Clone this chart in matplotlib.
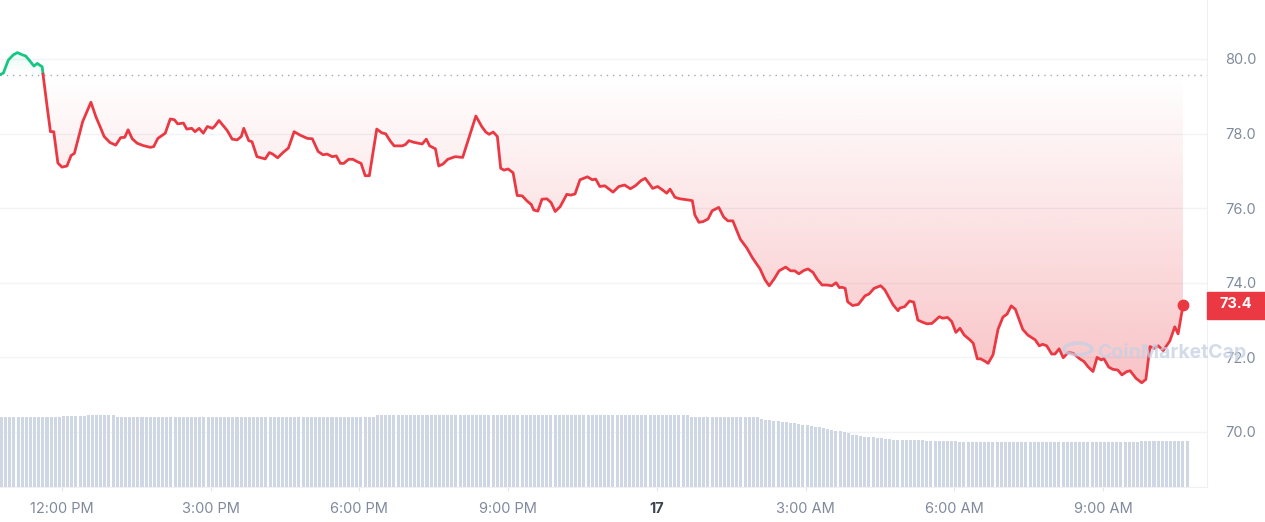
import numpy as np
import matplotlib.pyplot as plt
from matplotlib.path import Path
from matplotlib.patches import PathPatch, Rectangle, Circle
from matplotlib.transforms import blended_transform_factory

plt.rcParams['font.family'] = ['Inter', 'DejaVu Sans']

# price series: minutes after 10:45 AM (16th) and price in USD
t_min = [0, 4, 10, 16, 21, 27, 31, 36, 41, 45, 51, 52, 57, 61, 65, 70, 75, 81, 86, 90,
         100, 110, 116, 121, 126, 133, 140, 146, 151, 155, 160, 166, 173, 182, 186, 191, 200, 206, 211, 215,
         222, 226, 232, 236, 241, 246, 251, 257, 260, 265, 275, 281, 287, 292, 295, 301, 305, 311, 321, 326,
         330, 336, 343, 349, 356, 363, 372, 378, 385, 391, 396, 402, 407, 412, 416, 422, 427, 432, 437, 442,
         447, 456, 462, 467, 472, 477, 487, 491, 495, 500, 511, 516, 520, 527, 531, 536, 542, 551, 560, 576,
         583, 588, 592, 597, 602, 606, 610, 615, 621, 626, 632, 638, 643, 646, 651, 656, 662, 667, 672, 678,
         686, 691, 696, 702, 711, 717, 721, 726, 732, 742, 749, 756, 763, 769, 776, 781, 790, 796, 803, 807,
         811, 817, 823, 833, 838, 841, 846, 851, 857, 862, 870, 876, 881, 887, 896, 904, 911, 920, 926, 931,
         937, 943, 951, 957, 962, 967, 973, 978, 984, 989, 995, 1001, 1007, 1012, 1016, 1019, 1023, 1026, 1032, 1039,
         1047, 1052, 1058, 1066, 1071, 1081, 1087, 1089, 1095, 1101, 1106, 1111, 1117, 1122, 1128, 1137, 1141, 1147, 1152, 1157,
         1162, 1167, 1174, 1178, 1183, 1187, 1192, 1196, 1202, 1208, 1214, 1219, 1224, 1229, 1238, 1244, 1253, 1258, 1262, 1267,
         1273, 1277, 1282, 1287, 1293, 1299, 1307, 1312, 1317, 1323, 1328, 1333, 1336, 1342, 1347, 1353, 1358, 1364, 1368, 1375,
         1382, 1387, 1392, 1397, 1402, 1408, 1416, 1422, 1426, 1432]
price = [79.58, 79.62, 79.97, 80.11, 80.17, 80.11, 80.08, 79.95, 79.81, 79.88, 79.79, 79.59, 78.72, 78.05, 78.05, 77.21, 77.10, 77.13, 77.41, 77.47,
         78.32, 78.84, 78.45, 78.19, 77.92, 77.76, 77.69, 77.89, 77.90, 78.10, 77.86, 77.74, 77.68, 77.63, 77.65, 77.87, 78.01, 78.39, 78.37, 78.26,
         78.28, 78.12, 78.14, 78.05, 78.14, 78.01, 78.19, 78.14, 78.20, 78.35, 78.08, 77.85, 77.83, 77.92, 78.14, 77.81, 77.78, 77.38, 77.32, 77.49,
         77.45, 77.35, 77.50, 77.61, 78.05, 77.96, 77.87, 77.86, 77.52, 77.43, 77.45, 77.38, 77.40, 77.20, 77.20, 77.31, 77.31, 77.25, 77.20, 76.87,
         76.87, 78.12, 78.02, 77.99, 77.81, 77.67, 77.67, 77.71, 77.81, 77.77, 77.72, 77.85, 77.67, 77.59, 77.13, 77.18, 77.31, 77.38, 77.36, 78.47,
         78.19, 78.04, 77.98, 78.04, 77.92, 77.07, 77.02, 77.05, 76.95, 76.34, 76.33, 76.19, 76.10, 75.95, 75.92, 76.24, 76.25, 76.15, 75.91, 76.04,
         76.37, 76.35, 76.38, 76.76, 76.84, 76.76, 76.78, 76.58, 76.60, 76.43, 76.58, 76.62, 76.52, 76.60, 76.74, 76.80, 76.53, 76.58, 76.47, 76.40,
         76.51, 76.29, 76.25, 76.22, 76.20, 75.82, 75.62, 75.64, 75.71, 75.93, 76.02, 75.76, 75.66, 75.66, 75.17, 74.93, 74.66, 74.37, 74.08, 73.92,
         74.10, 74.32, 74.42, 74.32, 74.32, 74.24, 74.33, 74.37, 74.28, 74.10, 73.94, 73.94, 73.92, 74.00, 73.87, 73.88, 73.85, 73.49, 73.39, 73.42,
         73.65, 73.70, 73.85, 73.92, 73.81, 73.41, 73.25, 73.32, 73.36, 73.51, 73.48, 73.00, 72.94, 72.90, 72.91, 73.09, 73.05, 73.07, 72.96, 72.67,
         72.78, 72.60, 72.47, 72.38, 71.96, 71.96, 71.90, 71.84, 72.07, 72.75, 73.08, 73.16, 73.38, 73.29, 72.75, 72.60, 72.47, 72.31, 72.35, 72.31,
         72.09, 72.09, 72.23, 71.99, 72.13, 72.11, 71.96, 71.89, 71.75, 71.62, 72.00, 71.93, 71.97, 71.74, 71.68, 71.66, 71.53, 71.62, 71.64, 71.44,
         71.32, 71.41, 72.29, 72.24, 72.31, 72.18, 72.44, 72.82, 72.63, 73.40]

# 24h volume, one bar per 5 minutes (relative units)
vol = [69.7, 69.7, 69.7, 69.7, 69.7, 69.7, 69.7, 69.7, 69.7, 69.7, 69.7, 69.7, 70.3, 70.3, 70.3, 71.3, 71.3, 71.3, 71.3, 71.3, 71.3, 72.3, 72.3, 72.3,
       72.3, 71.7, 71.7, 71.7, 70.3, 70.3, 70.3, 70.3, 70.3, 70.3, 70.3, 70.3, 70.3, 70.3, 70.3, 70.3, 70.3, 69.7, 69.7, 69.7, 69.7, 69.7, 69.7, 69.7,
       69.7, 69.7, 69.7, 69.7, 69.7, 69.7, 69.7, 69.7, 69.7, 69.7, 69.7, 69.7, 69.7, 69.7, 69.7, 69.7, 69.7, 69.7, 69.7, 69.7, 70.3, 70.3, 70.3, 70.3,
       70.3, 70.3, 70.3, 70.3, 70.3, 70.3, 70.3, 70.3, 70.3, 70.3, 70.3, 70.3, 70.3, 70.3, 70.3, 70.3, 70.3, 69.7, 69.7, 71.7, 71.7, 71.7, 71.7, 71.7,
       71.7, 71.7, 71.7, 71.7, 71.7, 71.7, 72.0, 72.0, 72.0, 72.0, 72.0, 72.0, 72.0, 72.0, 72.0, 72.0, 72.0, 72.0, 72.0, 72.0, 72.0, 72.0, 72.0, 72.0,
       72.0, 72.5, 72.5, 72.5, 72.5, 72.5, 72.5, 72.5, 72.5, 72.5, 72.5, 72.5, 72.5, 72.5, 72.5, 72.5, 72.5, 72.5, 72.5, 72.5, 72.5, 72.5, 72.5, 72.5,
       72.5, 72.5, 72.5, 72.5, 72.5, 72.5, 72.0, 72.0, 72.0, 72.0, 72.0, 72.0, 72.0, 72.0, 72.0, 72.0, 72.0, 72.0, 72.0, 72.0, 72.0, 72.0, 72.0, 70.5,
       70.5, 70.5, 70.5, 70.5, 70.5, 70.5, 70.5, 70.5, 70.5, 70.5, 70.5, 70.5, 70.5, 70.5, 70.5, 70.5, 68.0, 67.5, 67.0, 66.5, 66.0, 65.5, 65.0, 64.5,
       64.0, 63.5, 62.5, 62.0, 61.0, 60.5, 60.0, 59.0, 58.0, 57.0, 56.5, 56.0, 55.0, 54.5, 52.5, 52.0, 51.5, 50.5, 50.0, 49.7, 49.5, 49.0, 48.0, 47.8,
       47.5, 47.5, 47.5, 47.5, 47.5, 47.5, 47.5, 47.5, 46.3, 46.3, 46.3, 46.3, 46.3, 46.3, 46.3, 46.3, 45.0, 45.0, 45.0, 45.0, 45.0, 45.0, 45.0, 45.0,
       45.0, 45.0, 45.0, 45.0, 45.0, 45.0, 45.0, 45.0, 45.0, 45.0, 45.0, 45.0, 45.0, 45.0, 45.0, 45.0, 45.0, 45.0, 45.0, 45.0, 45.0, 45.0, 45.0, 45.0,
       45.0, 45.5, 45.5, 45.0, 45.0, 45.0, 45.0, 45.0, 45.0, 45.0, 45.0, 45.0, 45.7, 45.7, 45.7, 45.7, 45.7, 45.7, 45.7, 45.7, 45.7, 45.7, 45.7, 45.7]

base_price = 79.57
last_price = 73.4
start_hour = 10.75
tick_hours = [12, 15, 18, 21, 24, 27, 30, 33]
tick_labels = ["12:00 PM", "3:00 PM", "6:00 PM", "9:00 PM", "17", "3:00 AM", "6:00 AM", "9:00 AM"]
y_ticks = [70, 72, 74, 76, 78, 80]

RED = '#ea3943'
GREEN = '#16c784'
GREY = '#808a9d'

x = start_hour + np.array(t_min) / 60.0
p = np.array(price)
xv = start_hour + np.arange(len(vol)) / 12.0

fig = plt.figure(figsize=(12.65, 5.22), dpi=100)
rect = [0, 35 / 522, 1207 / 1265, 487 / 522]
ax = fig.add_axes(rect)
ax.set_xlim(10.749, 35.10)
ax.set_ylim(68.525, 81.58)

# grid + baseline
for v in y_ticks:
    ax.axhline(v, color='#f1f3f6', lw=1, zorder=0)
ax.axhline(base_price, color='#a3a8b3', lw=1.0, ls=(0, (1, 3.5)), zorder=1)

# gradient fills clipped to area between line and baseline
def grad_fill(lo, hi, rgb, a_at, y_from, y_to):
    n = 200
    vals = np.linspace(y_from, y_to, n)
    alpha = np.clip(a_at * (vals - y_from) / (y_to - y_from), 0, 1)
    img = np.zeros((n, 1, 4))
    img[:, 0, :3] = rgb
    img[:, 0, 3] = alpha
    y0, y1 = min(y_from, y_to), max(y_from, y_to)
    if y_from > y_to:
        img = img[::-1]
    im = ax.imshow(img, extent=[x[0], x[-1], y0, y1], origin='lower', aspect='auto', zorder=1,
                   interpolation='bilinear')
    verts = np.concatenate([np.column_stack([x, lo]), np.column_stack([x[::-1], hi[::-1]])])
    patch = PathPatch(Path(verts), facecolor='none', edgecolor='none', transform=ax.transData)
    ax.add_patch(patch)
    im.set_clip_path(patch)

grad_fill(np.minimum(p, base_price), np.full_like(p, base_price), (234 / 255, 57 / 255, 67 / 255),
          0.30, base_price, 71.3)
grad_fill(np.full_like(p, base_price), np.maximum(p, base_price), (22 / 255, 199 / 255, 132 / 255),
          0.12, base_price, 80.3)

# price line, green above the open, red below
ax.plot(x[:12], p[:12], color=GREEN, lw=2.0, zorder=3, solid_capstyle='round')
ax.plot(x[11:], p[11:], color=RED, lw=2.0, zorder=3, solid_joinstyle='round')
ax.plot(x[-1], p[-1], 'o', color=RED, ms=7.5, zorder=4)

# axes styling
for s in ['left', 'top']:
    ax.spines[s].set_visible(False)
ax.spines['bottom'].set_color('#eef0f3')
ax.spines['right'].set_color('#eef0f3')
ax.set_xticks(tick_hours)
ax.set_xticklabels(tick_labels)
ax.tick_params(axis='x', length=3, color='#e3e6eb', pad=7.5, labelsize=10.5, labelcolor=GREY)
ax.get_xticklabels()[4].set_fontweight('bold')
ax.get_xticklabels()[4].set_color('#3d4350')
ax.yaxis.tick_right()
ax.set_yticks(y_ticks)
ax.set_yticklabels(['%.1f' % v for v in y_ticks])
ax.tick_params(axis='y', length=0, pad=13, labelsize=10.5, labelcolor=GREY)

# volume bars on their own axes in front
axv = fig.add_axes(rect, sharex=ax, zorder=2)
axv.patch.set_visible(False)
axv.axis('off')
axv.bar(xv, vol, width=0.061, align='edge', color='#cfd6e4', linewidth=0)
axv.set_ylim(0, max(vol) * 6.73)

# current price tag
tr = blended_transform_factory(ax.transAxes, ax.transData)
ax.add_patch(Rectangle((1.0, last_price - 0.36), 58 / 1207, 0.72, transform=tr, color=RED,
                       clip_on=False, zorder=5))
ax.text(1.0 + 29 / 1207, last_price + 0.02, '%.1f' % last_price, transform=tr, ha='center', va='center',
        color='white', fontsize=10.5, fontweight='bold', zorder=6)

# watermark
fig.patches.append(Circle((1078 / 1265, 1 - 349 / 522), 14 / 1265, transform=fig.transFigure,
                          fill=False, ec='#c5d0e3', lw=2.5, alpha=0.75, zorder=10))
fig.text(1097 / 1265, 1 - 352 / 522, 'CoinMarketCap', fontsize=14, fontweight='bold', color='#c5d0e3',
         alpha=0.75, va='center', ha='left', zorder=10)

fig.savefig('out.png', dpi=100)
